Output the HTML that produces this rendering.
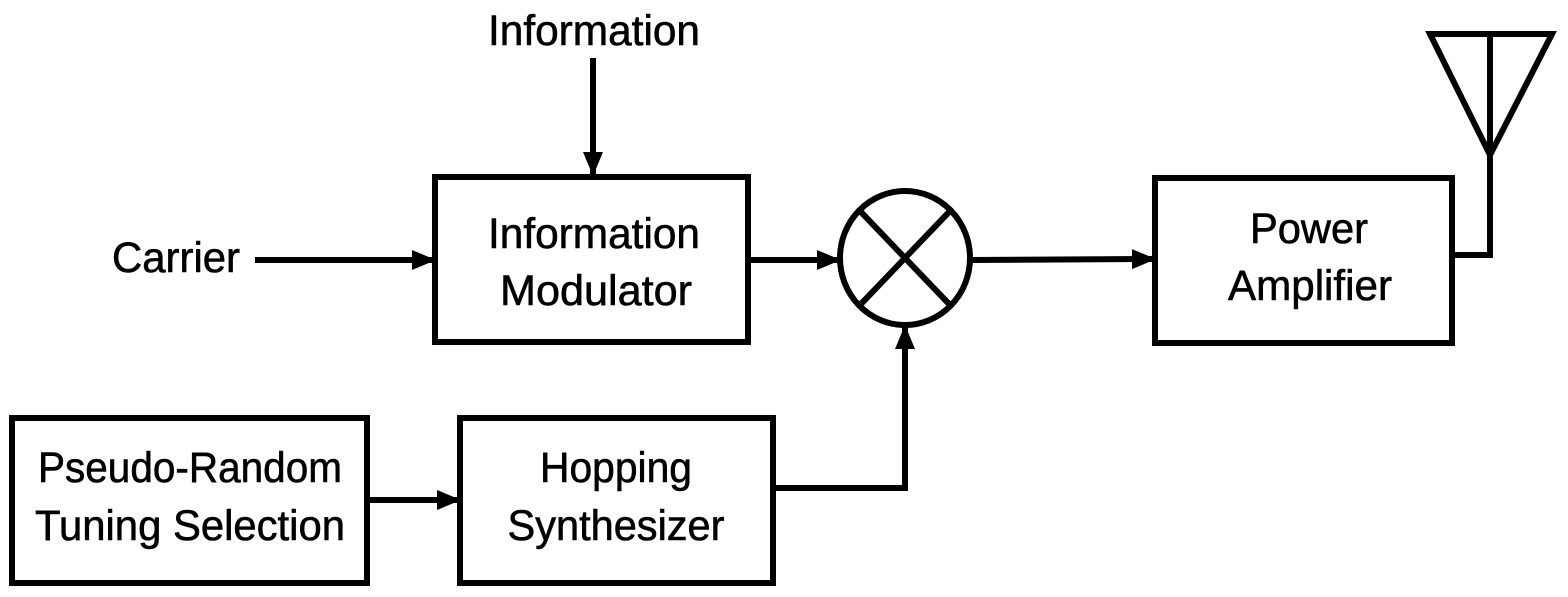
<!DOCTYPE html>
<html><head><style>body{margin:0;background:#fff}svg{display:block}</style></head><body>
<svg width="1568" height="597" viewBox="0 0 1568 597" xmlns="http://www.w3.org/2000/svg">
<defs>
<marker id="b" markerWidth="24" markerHeight="24" refX="22" refY="12" orient="auto" markerUnits="userSpaceOnUse"><path d="M0,2 L24,12 L0,22 z" fill="#000"/></marker></defs>
<g fill="none" stroke="#000" stroke-width="6">
<rect x="435" y="177" width="313" height="165"/>
<rect x="1155" y="178" width="297" height="165"/>
<rect x="12" y="418" width="355" height="165"/>
<rect x="460" y="418" width="313" height="165"/>
<ellipse cx="905" cy="258" rx="65" ry="67"/>
<line x1="860" y1="211" x2="950" y2="305"/><line x1="950" y1="211" x2="860" y2="305"/>
<line x1="593" y1="58" x2="593" y2="174" marker-end="url(#b)"/>
<line x1="255" y1="260" x2="434" y2="260" marker-end="url(#b)"/>
<line x1="748" y1="260" x2="839" y2="260" marker-end="url(#b)"/>
<line x1="972" y1="260" x2="1154" y2="259" marker-end="url(#b)"/>
<line x1="367" y1="500" x2="459" y2="500" marker-end="url(#b)"/>
<polyline points="773,488 905,488 905,327" marker-end="url(#b)"/>
<polyline points="1452,255 1490,255 1490,155"/>
<polygon points="1430,34 1552,34 1490,155"/>
<line x1="1490" y1="34" x2="1490" y2="155"/>
</g>
<g font-family="Liberation Sans, sans-serif" font-size="43" fill="#000" stroke="#000" stroke-width="0.6" text-anchor="middle">
<text x="594" y="45" textLength="212" lengthAdjust="spacingAndGlyphs">Information</text>
<text x="176" y="272" textLength="128" lengthAdjust="spacingAndGlyphs">Carrier</text>
<text x="594" y="248" textLength="212" lengthAdjust="spacingAndGlyphs">Information</text>
<text x="596" y="305" textLength="192" lengthAdjust="spacingAndGlyphs">Modulator</text>
<text x="1309" y="243" textLength="118" lengthAdjust="spacingAndGlyphs">Power</text>
<text x="1310" y="300" textLength="164" lengthAdjust="spacingAndGlyphs">Amplifier</text>
<text x="190" y="482" textLength="304" lengthAdjust="spacingAndGlyphs">Pseudo-Random</text>
<text x="190" y="540" textLength="310" lengthAdjust="spacingAndGlyphs">Tuning Selection</text>
<text x="616" y="482" textLength="152" lengthAdjust="spacingAndGlyphs">Hopping</text>
<text x="616" y="540" textLength="217" lengthAdjust="spacingAndGlyphs">Synthesizer</text>
</g>
</svg>
</body></html>
